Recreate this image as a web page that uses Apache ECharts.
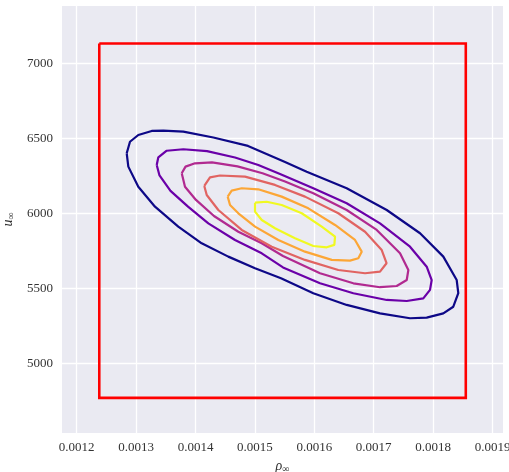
<!DOCTYPE html>
<html>
<head>
<meta charset="utf-8">
<script src="https://cdn.jsdelivr.net/npm/echarts@6/dist/echarts.min.js"></script>
<style>html,body{margin:0;padding:0;background:#fff}#c{width:509px;height:472px}</style>
</head>
<body>
<div id="c"></div>
<script>
// tick labels
const xTicks = [0.0012, 0.0013, 0.0014, 0.0015, 0.0016, 0.0017, 0.0018, 0.0019];
const yTicks = [5000, 5500, 6000, 6500, 7000];

// red bounding box corners
const rectX = [0.001238, 0.001855, 0.001855, 0.001238, 0.001238];
const rectY = [7132, 7132, 4769, 4769, 7132];

// contour levels (outer to inner)
const level1X = [0.0012842,0.0012897,0.0013037,0.0013263,0.0013458,0.0013795,0.0014300,0.0014884,0.0015507,0.0015872,0.0016545,0.0017219,0.0017780,0.0018172,0.0018397,0.0018424,0.0018340,0.0018172,0.0017892,0.0017611,0.0017106,0.0016545,0.0015983,0.0015439,0.0015002,0.0014552,0.0014104,0.0013710,0.0013318,0.0013037,0.0012869];
const level1Y = [6400,6477,6522,6549,6551,6544,6505,6449,6342,6277,6167,6022,5867,5711,5555,5467,5377,5333,5304,5300,5333,5389,5467,5567,5633,5711,5800,5911,6044,6177,6311];

const level2X = [0.0013347,0.0013374,0.0013515,0.0013795,0.0014194,0.0014665,0.0015057,0.0015423,0.0015983,0.0016545,0.0017106,0.0017611,0.0017892,0.0017976,0.0017948,0.0017835,0.0017556,0.0017219,0.0016657,0.0016096,0.0015473,0.0015115,0.0014665,0.0014216,0.0013874,0.0013579,0.0013394];
const level2Y = [6322,6373,6417,6427,6414,6372,6322,6262,6167,6067,5933,5777,5644,5555,5489,5433,5415,5422,5467,5533,5639,5733,5822,5933,6044,6149,6252];

const level3X = [0.0013768,0.0013832,0.0013992,0.0014278,0.0014707,0.0015128,0.0015507,0.0015983,0.0016545,0.0017051,0.0017443,0.0017583,0.0017556,0.0017387,0.0017106,0.0016657,0.0016096,0.0015473,0.0015115,0.0014721,0.0014311,0.0014008,0.0013823];
const level3Y = [6267,6311,6333,6339,6313,6267,6212,6133,6022,5889,5733,5622,5555,5515,5507,5533,5600,5715,5800,5877,5982,6089,6177];

const level4X = [0.0014148,0.0014244,0.0014412,0.0014833,0.0015338,0.0015843,0.0016404,0.0016854,0.0017135,0.0017216,0.0017106,0.0016854,0.0016404,0.0015843,0.0015283,0.0014778,0.0014384,0.0014189];
const level4Y = [6182,6239,6252,6244,6189,6111,6000,5877,5755,5667,5611,5600,5622,5689,5777,5889,6022,6122];

const level5X = [0.0014542,0.0014609,0.0014778,0.0015057,0.0015451,0.0015899,0.0016349,0.0016685,0.0016798,0.0016741,0.0016601,0.0016293,0.0015843,0.0015394,0.0015002,0.0014721,0.0014581];
const level5Y = [6111,6151,6167,6160,6111,6033,5922,5822,5744,5700,5684,5689,5744,5822,5911,6000,6055];

const level6X = [0.0015002,0.0015199,0.0015451,0.0015788,0.0016125,0.0016349,0.0016337,0.0016209,0.0015983,0.0015675,0.0015338,0.0015115,0.0015002];
const level6Y = [6071,6077,6055,6000,5911,5844,5789,5773,5782,5833,5900,5955,6011];

const levelColors = ['#0d0887', '#6a00a8', '#b12a90', '#e16462', '#fca636', '#f0f921'];

function pairs(xs, ys, close) {
  const d = xs.map((x, i) => [x, ys[i]]);
  if (close) d.push([xs[0], ys[0]]);
  return d;
}

const levels = [[level1X, level1Y], [level2X, level2Y], [level3X, level3Y], [level4X, level4Y], [level5X, level5Y], [level6X, level6Y]];

const series = levels.map((lv, i) => ({
  type: 'line',
  data: pairs(lv[0], lv[1], true),
  showSymbol: false,
  symbol: 'none',
  smooth: false,
  lineStyle: { color: levelColors[i], width: 2.2 },
  silent: true,
  z: 3
}));

series.push({
  type: 'line',
  data: pairs(rectX, rectY, false),
  showSymbol: false,
  symbol: 'none',
  lineStyle: { color: '#ff0000', width: 2.6, join: 'miter' },
  silent: true,
  z: 4
});

const font = 'Liberation Serif';
const chart = echarts.init(document.getElementById('c'), null, { renderer: 'canvas' });
chart.setOption({
  animation: false,
  backgroundColor: '#ffffff',
  grid: { left: 62, right: 6, top: 6, bottom: 39, show: true, backgroundColor: '#eaeaf2', borderWidth: 0, containLabel: false, outerBoundsMode: 'none' },
  xAxis: {
    type: 'value',
    min: 0.00117525,
    max: 0.00191765,
    axisLine: { show: false },
    axisTick: { show: false, customValues: xTicks },
    axisLabel: { customValues: xTicks, formatter: v => v.toFixed(4), color: '#333', fontFamily: font, fontSize: 13, margin: 8, hideOverlap: false },
    splitLine: { show: true, lineStyle: { color: '#ffffff', width: 1.3 } },
    name: '{a|ρ}{b|∞}',
    nameLocation: 'middle',
    nameGap: 22,
    nameTextStyle: {
      rich: {
        a: { fontFamily: font, fontSize: 14, fontStyle: 'italic', color: '#333' },
        b: { fontFamily: font, fontSize: 10, color: '#333', padding: [6, 0, 0, 0] }
      }
    }
  },
  yAxis: {
    type: 'value',
    min: 4535,
    max: 7382,
    axisLine: { show: false },
    axisTick: { show: false, customValues: yTicks },
    axisLabel: { customValues: yTicks, formatter: v => String(v), color: '#333', fontFamily: font, fontSize: 13, margin: 9 },
    splitLine: { show: true, lineStyle: { color: '#ffffff', width: 1.3 } },
    name: '{a|u}{b|∞}',
    nameLocation: 'middle',
    nameGap: 42,
    nameTextStyle: {
      rich: {
        a: { fontFamily: font, fontSize: 14, fontStyle: 'italic', color: '#333' },
        b: { fontFamily: font, fontSize: 10, color: '#333', padding: [6, 0, 0, 0] }
      }
    }
  },
  series: series
});
</script>
</body>
</html>
